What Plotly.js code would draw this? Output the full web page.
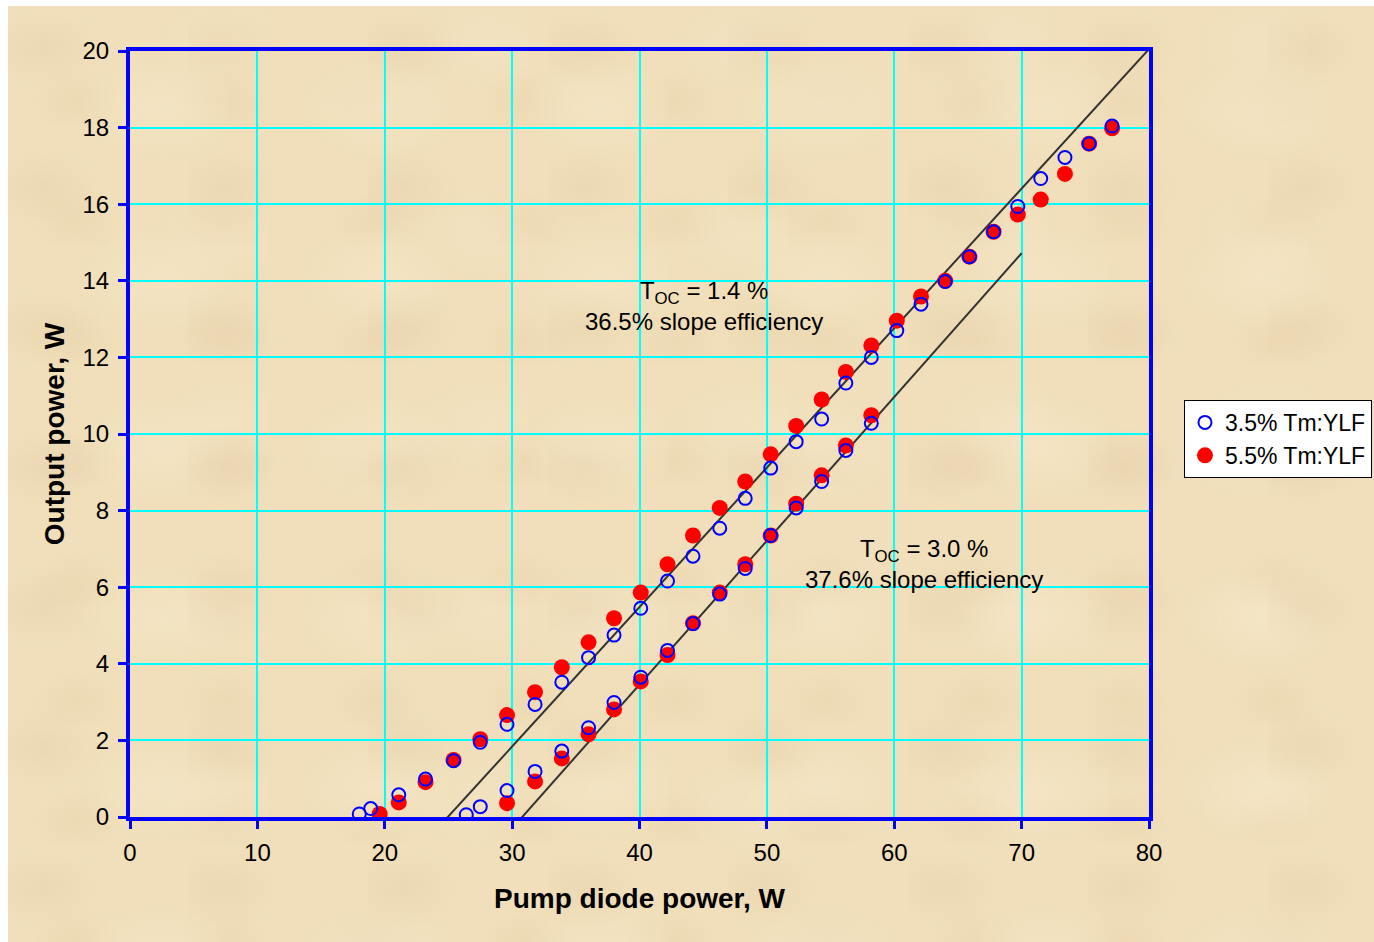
<!DOCTYPE html>
<html>
<head>
<meta charset="utf-8">
<script src="https://cdn.plot.ly/plotly-3.0.1.min.js"></script>
<style>
html,body{margin:0;padding:0;background:#ffffff;}
#bg{position:absolute;left:8px;top:6px;width:1366px;height:936px;
background-color:#F0DFBA;
background-image:
 radial-gradient(ellipse 60px 40px at 20% 30%, rgba(228,205,168,0.35), rgba(228,205,168,0) 100%),
 radial-gradient(ellipse 80px 50px at 70% 60%, rgba(248,234,206,0.45), rgba(248,234,206,0) 100%),
 radial-gradient(ellipse 50px 35px at 45% 80%, rgba(232,208,170,0.35), rgba(232,208,170,0) 100%),
 radial-gradient(ellipse 70px 45px at 85% 20%, rgba(246,230,200,0.4), rgba(246,230,200,0) 100%);
background-size:180px 140px, 220px 170px, 150px 120px, 260px 190px;
}
#chart{position:absolute;left:0;top:0;width:1374px;height:942px;}
</style>
</head>
<body>
<div id="bg"></div>
<div id="chart"></div>
<script>
// 3.5% Tm:YLF (open blue circles): TOC 1.4% branch then TOC 3.0% branch
const blueX = [18.0, 18.9, 21.1, 23.2, 25.4, 27.5, 29.6, 31.8, 33.9, 36.0, 38.0, 40.1, 42.2, 44.2, 46.3, 48.3, 50.3, 52.3, 54.3, 56.2, 58.2, 60.2, 62.1, 64.0, 65.9, 67.8, 69.7, 71.5, 73.4, 75.3, 77.1,
               26.4, 27.5, 29.6, 31.8, 33.9, 36.0, 38.0, 40.1, 42.2, 44.2, 46.3, 48.3, 50.3, 52.3, 54.3, 56.2, 58.2];
const blueY = [0.08, 0.22, 0.58, 0.99, 1.47, 1.95, 2.42, 2.94, 3.52, 4.16, 4.75, 5.45, 6.16, 6.81, 7.54, 8.32, 9.11, 9.80, 10.39, 11.33, 12.0, 12.70, 13.39, 13.98, 14.63, 15.28, 15.94, 16.67, 17.22, 17.58, 18.04,
               0.06, 0.27, 0.69, 1.19, 1.72, 2.33, 2.99, 3.65, 4.35, 5.05, 5.82, 6.49, 7.35, 8.07, 8.76, 9.57, 10.28];
// 5.5% Tm:YLF (filled red circles)
const redX = [19.6, 21.1, 23.2, 25.4, 27.5, 29.6, 31.8, 33.9, 36.0, 38.0, 40.1, 42.2, 44.2, 46.3, 48.3, 50.3, 52.3, 54.3, 56.2, 58.2, 60.2, 62.1, 64.0, 65.9, 67.8, 69.7, 71.5, 73.4, 75.3, 77.1,
              29.6, 31.8, 33.9, 36.0, 38.0, 40.1, 42.2, 44.2, 46.3, 48.3, 50.3, 52.3, 54.3, 56.2, 58.2];
const redY = [0.08, 0.38, 0.91, 1.49, 2.03, 2.66, 3.26, 3.91, 4.56, 5.19, 5.86, 6.60, 7.35, 8.07, 8.76, 9.47, 10.21, 10.90, 11.62, 12.31, 12.96, 13.59, 14.0, 14.63, 15.28, 15.73, 16.12, 16.79, 17.58, 17.98,
              0.36, 0.93, 1.53, 2.16, 2.81, 3.54, 4.23, 5.06, 5.86, 6.60, 7.35, 8.18, 8.92, 9.70, 10.49];
// Slope-efficiency fit lines
const fit14X = [24.4, 80.0];
const fit14Y = [-0.2, 20.05];
const fit30X = [30.26, 70.0];
const fit30Y = [-0.2, 14.72];

const xTicks = [0, 10, 20, 30, 40, 50, 60, 70, 80];
const yTicks = [0, 2, 4, 6, 8, 10, 12, 14, 16, 18, 20];

const FONT = 'Arial, "Liberation Sans", sans-serif';

const traces = [
  {x: fit14X, y: fit14Y, mode: 'lines', line: {color: '#333333', width: 2}, showlegend: false, hoverinfo: 'skip'},
  {x: fit30X, y: fit30Y, mode: 'lines', line: {color: '#333333', width: 2}, showlegend: false, hoverinfo: 'skip'},
  {x: redX, y: redY, mode: 'markers', name: '5.5% Tm:YLF', legendrank: 2,
   marker: {symbol: 'circle', size: 16, color: '#FF0000', line: {width: 0}}},
  {x: blueX, y: blueY, mode: 'markers', name: '3.5% Tm:YLF', legendrank: 1,
   marker: {symbol: 'circle-open', size: 13, color: '#0000FF', line: {width: 2, color: '#0000FF'}}}
];

const layout = {
  width: 1374, height: 942,
  paper_bgcolor: 'rgba(0,0,0,0)', plot_bgcolor: 'rgba(0,0,0,0)',
  margin: {l: 130, r: 225, t: 51, b: 125},
  font: {family: FONT, color: '#000000', size: 24},
  showlegend: true,
  legend: {xref: 'container', yref: 'container', x: 0.8617, y: 0.5754, xanchor: 'left', yanchor: 'top',
           bgcolor: '#FFFFFF', bordercolor: '#000000', borderwidth: 1, font: {size: 23, family: FONT},
           tracegroupgap: 0, itemwidth: 30},
  xaxis: {range: [0, 80], tickvals: xTicks, ticktext: xTicks.map(String),
          showline: true, linecolor: '#0000FF', linewidth: 4, mirror: true,
          ticks: 'outside', ticklen: 8, tickwidth: 3, tickcolor: '#0000FF',
          showgrid: true, gridcolor: '#00FFFF', gridwidth: 2, zeroline: false,
          ticklabelstandoff: 3, tickfont: {size: 24},
          title: {text: '<b>Pump diode power, W</b>', font: {size: 28}, standoff: 25}},
  yaxis: {range: [0, 20], tickvals: yTicks, ticktext: yTicks.map(String),
          showline: true, linecolor: '#0000FF', linewidth: 4, mirror: true,
          ticks: 'outside', ticklen: 8, tickwidth: 3, tickcolor: '#0000FF',
          showgrid: true, gridcolor: '#00FFFF', gridwidth: 2, zeroline: false,
          ticklabelstandoff: 4, tickfont: {size: 24},
          title: {text: '<b>Output power, W</b>', font: {size: 28}, standoff: 11}},
  annotations: [
    {x: 45.04, y: 13.35, xref: 'x', yref: 'y', text: 'T<sub>OC</sub> = 1.4 %<br>36.5% slope efficiency',
     showarrow: false, font: {size: 24, family: FONT}, align: 'center'},
    {x: 62.33, y: 6.61, xref: 'x', yref: 'y', text: 'T<sub>OC</sub> = 3.0 %<br>37.6% slope efficiency',
     showarrow: false, font: {size: 24, family: FONT}, align: 'center'}
  ]
};

Plotly.newPlot('chart', traces, layout, {displayModeBar: false, staticPlot: true});
</script>
</body>
</html>
